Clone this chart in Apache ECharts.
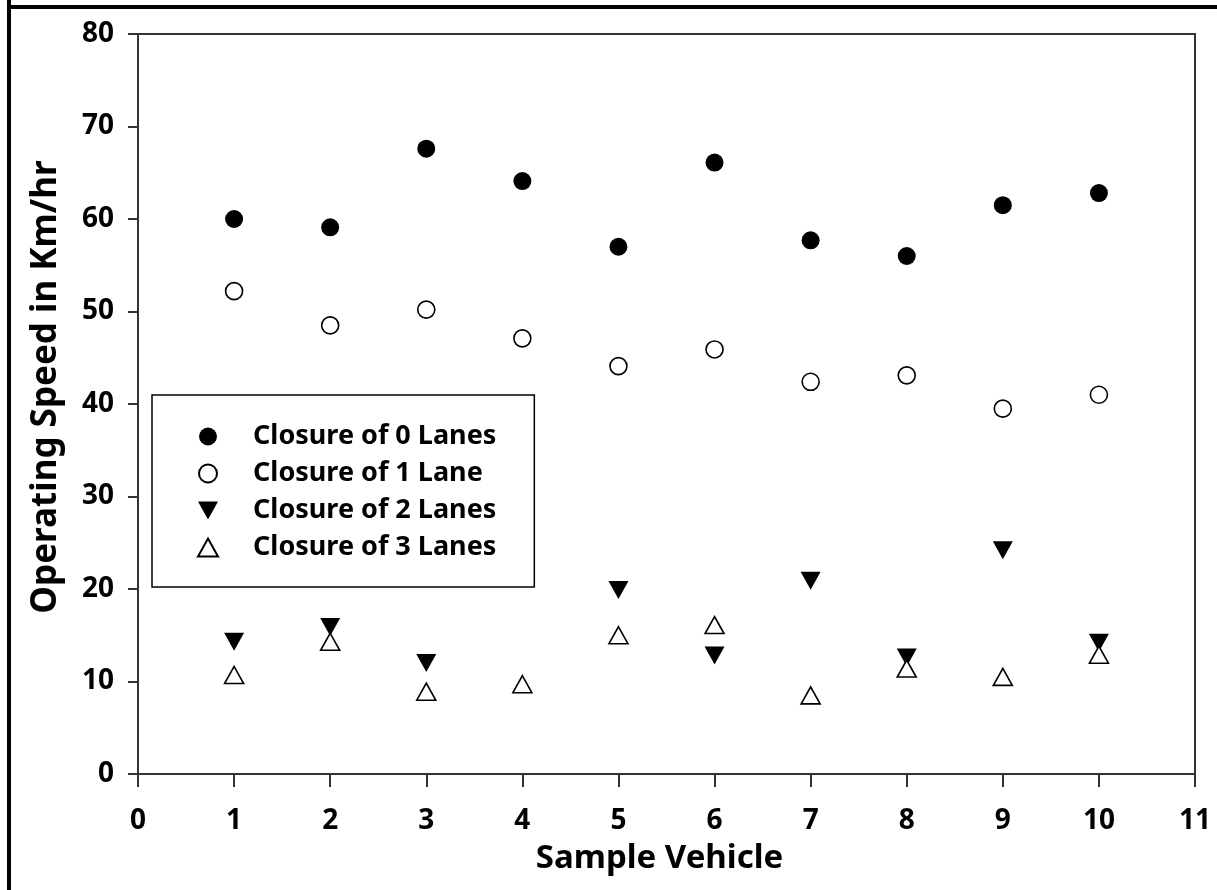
<!DOCTYPE html>
<html>
<head>
<meta charset="utf-8">
<script src="https://cdn.jsdelivr.net/npm/echarts@6/dist/echarts.min.js"></script>
<style>
html,body{margin:0;padding:0;background:#fff;}
#chart{width:1217px;height:890px;}
</style>
</head>
<body>
<div id="chart"></div>
<script>
const vehicles = [1, 2, 3, 4, 5, 6, 7, 8, 9, 10];
const closure0 = [60.0, 59.1, 67.6, 64.1, 57.0, 66.1, 57.7, 56.0, 61.5, 62.8];
const closure1 = [52.2, 48.5, 50.2, 47.1, 44.1, 45.9, 42.4, 43.1, 39.5, 41.0];
const closure2 = [14.3, 15.9, 12.0, null, 19.9, 12.8, 20.9, 12.6, 24.2, 14.2];
const closure3 = [10.7, 14.3, 8.9, 9.7, 15.0, 16.1, 8.5, 11.4, 10.5, 12.9];
const seriesNames = ['Closure of 0 Lanes', 'Closure of 1 Lane', 'Closure of 2 Lanes', 'Closure of 3 Lanes'];
const xTicks = ['0','1','2','3','4','5','6','7','8','9','10','11'];

function pts(vals) {
  const out = [];
  vals.forEach((v, i) => { if (v !== null) out.push([vehicles[i], v]); });
  return out;
}

const FONT = '"Noto Sans", "Open Sans", sans-serif';
const chart = echarts.init(document.getElementById('chart'), null, {renderer: 'canvas'});
const downTri = 'path://M0,0 L20,0 L10,18 Z';

chart.setOption({
  backgroundColor: '#fff',
  animation: false,
  grid: {
    left: 138, right: 22, top: 34, bottom: 116,
    show: true, borderColor: '#333', borderWidth: 2, backgroundColor: 'transparent'
  },
  xAxis: {
    type: 'value', min: 0, max: 11, interval: 1,
    name: 'Sample Vehicle', nameLocation: 'middle', nameGap: 68,
    nameTextStyle: {fontFamily: FONT, fontWeight: 'bold', fontSize: 33, color: '#000', padding: [0, 14, 0, 0]},
    axisLine: {show: true, onZero: false, lineStyle: {color: '#333', width: 2}},
    axisTick: {show: true, inside: false, length: 13, lineStyle: {color: '#333', width: 2}},
    axisLabel: {
      margin: 33, fontFamily: FONT, fontWeight: 'bold', fontSize: 28, color: '#000',
      formatter: v => xTicks[Math.round(v)]
    },
    splitLine: {show: false}
  },
  yAxis: {
    type: 'value', min: 0, max: 80, interval: 10,
    name: 'Operating Speed in Km/hr', nameLocation: 'middle', nameGap: 74,
    nameTextStyle: {fontFamily: FONT, fontWeight: 'bold', fontSize: 35, color: '#000', padding: [0, 0, 0, 34]},
    axisLine: {show: true, onZero: false, lineStyle: {color: '#333', width: 2}},
    axisTick: {show: true, inside: false, length: 10, lineStyle: {color: '#333', width: 2}},
    axisLabel: {margin: 24, fontFamily: FONT, fontWeight: 'bold', fontSize: 28, color: '#000'},
    splitLine: {show: false}
  },
  legend: {
    orient: 'vertical', left: 152, top: 395,
    backgroundColor: '#fff', borderColor: '#000', borderWidth: 1.5, borderRadius: 0,
    padding: [28, 38, 26, 45],
    itemWidth: 20, itemHeight: 18, itemGap: 10,
    textStyle: {fontFamily: FONT, fontWeight: 'bold', fontSize: 27, lineHeight: 27, color: '#000', padding: [0, 0, 0, 30]},
    data: seriesNames
  },
  graphic: [
    {type: 'rect', shape: {x: 7, y: 0, width: 4, height: 890}, style: {fill: '#000'}, silent: true},
    {type: 'rect', shape: {x: 7, y: 5, width: 1210, height: 4}, style: {fill: '#000'}, silent: true}
  ],
  series: [
    {
      name: seriesNames[0], type: 'scatter', data: pts(closure0),
      symbol: 'circle', symbolSize: 18,
      itemStyle: {color: '#000', borderColor: '#000', borderWidth: 0, opacity: 1}
    },
    {
      name: seriesNames[1], type: 'scatter', data: pts(closure1),
      symbol: 'circle', symbolSize: 17,
      itemStyle: {color: '#fff', borderColor: '#000', borderWidth: 1.6, opacity: 1}
    },
    {
      name: seriesNames[2], type: 'scatter', data: pts(closure2),
      symbol: downTri, symbolSize: [20, 18],
      itemStyle: {color: '#000', borderColor: '#000', borderWidth: 0, opacity: 1}
    },
    {
      name: seriesNames[3], type: 'scatter', data: pts(closure3),
      symbol: 'triangle', symbolSize: [19, 17],
      itemStyle: {color: '#fff', borderColor: '#000', borderWidth: 1.6, opacity: 1}
    }
  ]
});
</script>
</body>
</html>
